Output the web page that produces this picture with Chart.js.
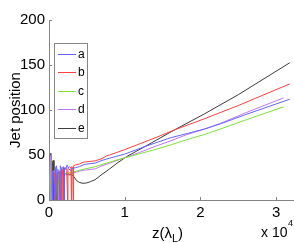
<!DOCTYPE html>
<html><head><meta charset="utf-8">
<script src="https://cdn.jsdelivr.net/npm/chart.js@4"></script>
<style>html,body{margin:0;padding:0;background:#fff;}canvas{display:block;}</style>
</head><body>
<canvas id="c" width="294" height="243"></canvas>
<script>
const seriesLabels = ['a', 'b', 'c', 'd', 'e'];
const seriesColors = ['#6464ff', '#ff4040', '#7ee03c', '#bf78f5', '#3c3c3c'];

// z values (raw, the axis shows them x 10^4) and jet positions
const aZ = [400,460,600,800,850,1000,1100,1150,1300,1450,1500,1650,1900,2000,2050,2200,2400,2600,2800,3100,3500,4000,4500,5000,6080,7000,8000,10000,12700,16000,20600,22600,26000,31800];
const aY = [0,32,30,0,36,38,0,34,33,0,38,34,37,0,36,34,39,35,33,35,36,37,39,40,41,44,46.5,51,59.5,69,79,84.5,95,112];

const bZ = [700,760,1000,1100,1200,1400,1500,1560,1650,1700,1760,1900,1950,2000,2200,2350,2450,2500,2700,2900,2950,3000,3150,3200,3250,3500,4000,4500,5000,6080,7000,7600,8000,9000,10000,12000,14000,16600,20600,25000,31800];
const bY = [0,30,28,0,30,32,0,31,34,0,33,35,0,34,36,33,0,35,37,36,0,37,36,0,38,39,40,42,42.5,43.5,46,49,50,53,56,62.5,69,78,90.5,105,129];

const cZ = [900,960,1200,1400,1450,1700,2000,2400,2800,3200,3600,4000,4500,5000,6080,7000,8000,9000,10300,12000,14000,16000,18000,20600,23000,26000,31000];
const cY = [0,30,31,0,30,30,29,30,30,31,32,33,34,35,37,39.5,42,44.5,47.5,51.5,56,61,66.5,73,80,89,103.5];

const dZ = [0,140,260,340,420,500,700,800,860,1100,1300,1350,1600,2000,2400,2800,3200,3600,4000,4500,5000,6080,7000,8000,9000,10000,12000,14000,16000,18000,20600,22600,26000,31000];
const dY = [0,48,50,43,0,30,33,0,31,30,0,30,31,30,29,30,30,31,32,33,33.5,34.6,38,41,44,47,53,59.5,65.5,72,79,85,97,113.5];

const eZ = [0,130,250,330,400,460,560,660,720,850,1000,1080,1300,1500,1800,2200,2600,3000,3300,3600,4000,4500,5000,5500,6080,7000,8000,9000,10300,12700,16600,20600,25000,31800];
const eY = [0,50,52,47,0,42,44,0,30,33,0,30,31,29,30,29,28,28,26,22,19.5,18.5,19,20.5,22.5,28.5,34.5,41,48.5,59.5,78,96,117,152.5];

const xTickValues = [0, 10000, 20000, 30000];
const yTickValues = [0, 50, 100, 150, 200];

const FONT = 'Liberation Sans, Arial, Helvetica, sans-serif';
const zs = [aZ, bZ, cZ, dZ, eZ];
const ys = [aY, bY, cY, dY, eY];

const datasets = seriesLabels.map((lab, i) => ({
  label: lab,
  data: zs[i].map((z, k) => ({x: z, y: ys[i][k]})),
  borderColor: seriesColors[i],
  backgroundColor: seriesColors[i],
  borderWidth: 1,
  pointRadius: 0,
  tension: 0,
  fill: false
}));

const decor = {
  id: 'decor',
  afterDatasetsDraw(chart) {
    const ctx = chart.ctx, xs = chart.scales.x, yS = chart.scales.y, ca = chart.chartArea;
    ctx.save();
    // inward tick marks
    ctx.strokeStyle = '#858585';
    ctx.lineWidth = 1;
    ctx.beginPath();
    xs.ticks.forEach(t => {
      const px = Math.round(xs.getPixelForValue(t.value)) + 0.5;
      ctx.moveTo(px, ca.bottom); ctx.lineTo(px, ca.bottom - 3);
    });
    yS.ticks.forEach(t => {
      const py = Math.round(yS.getPixelForValue(t.value)) + 0.5;
      ctx.moveTo(ca.left, py); ctx.lineTo(ca.left + 3, py);
    });
    ctx.stroke();

    // legend box
    const lx = 54.5, ly = 43.5, lw = 33, lh = 95;
    ctx.fillStyle = '#fff';
    ctx.fillRect(lx, ly, lw, lh);
    ctx.strokeStyle = '#858585';
    ctx.strokeRect(lx, ly, lw, lh);
    chart.data.datasets.forEach((ds, i) => {
      const y = 53.5 + i * 18.5;
      ctx.strokeStyle = ds.borderColor;
      ctx.lineWidth = 1;
      ctx.beginPath();
      ctx.moveTo(58, Math.round(y) + 0.5); ctx.lineTo(76, Math.round(y) + 0.5);
      ctx.stroke();
      ctx.fillStyle = '#000';
      ctx.font = '12px ' + FONT;
      ctx.textAlign = 'left';
      ctx.textBaseline = 'middle';
      ctx.fillText(ds.label, 78, y + 1);
    });

    // y title
    ctx.fillStyle = '#000';
    ctx.save();
    ctx.translate(16, (ca.top + ca.bottom) / 2);
    ctx.rotate(-Math.PI / 2);
    ctx.font = '15px ' + FONT;
    ctx.textAlign = 'center';
    ctx.textBaseline = 'middle';
    ctx.fillText('Jet position', 0, 0);
    ctx.restore();

    // x title z(λ_L)
    ctx.textBaseline = 'alphabetic';
    ctx.textAlign = 'left';
    let x = 152;
    ctx.font = '15px ' + FONT;
    ctx.fillText('z(λ', x, 238);
    x += ctx.measureText('z(λ').width;
    ctx.font = '11px ' + FONT;
    ctx.fillText('L', x, 242);
    x += ctx.measureText('L').width;
    ctx.font = '15px ' + FONT;
    ctx.fillText(')', x, 238);

    // multiplier x 10^4
    ctx.font = '14px ' + FONT;
    ctx.fillText('x 10', 261, 237);
    const w = ctx.measureText('x 10').width;
    ctx.font = '9px ' + FONT;
    ctx.fillText('4', 261 + w + 0.5, 226);
    ctx.restore();
  }
};

new Chart(document.getElementById('c'), {
  type: 'line',
  data: {datasets},
  plugins: [decor],
  options: {
    responsive: false,
    animation: false,
    devicePixelRatio: 1,
    layout: {padding: {top: 20, right: 0, bottom: 0, left: 0}},
    plugins: {legend: {display: false}, tooltip: {enabled: false}},
    scales: {
      x: {
        type: 'linear',
        min: 0, max: 32360,
        afterFit(s) { s.height = 43; },
        afterBuildTicks(s) { s.ticks = xTickValues.map(v => ({value: v})); },
        ticks: {
          callback: v => String(v / 10000),
          font: {family: FONT, size: 15},
          color: '#000',
          padding: 4,
          maxRotation: 0,
          autoSkip: false
        },
        grid: {drawOnChartArea: false, drawTicks: false},
        border: {color: '#858585', width: 1}
      },
      y: {
        min: 0, max: 200,
        afterFit(s) { s.width = 49; },
        afterBuildTicks(s) { s.ticks = yTickValues.map(v => ({value: v})); },
        ticks: {
          font: {family: FONT, size: 15},
          color: '#000',
          padding: 4
        },
        grid: {drawOnChartArea: false, drawTicks: false},
        border: {color: '#858585', width: 1}
      }
    }
  }
});
</script>
</body></html>
